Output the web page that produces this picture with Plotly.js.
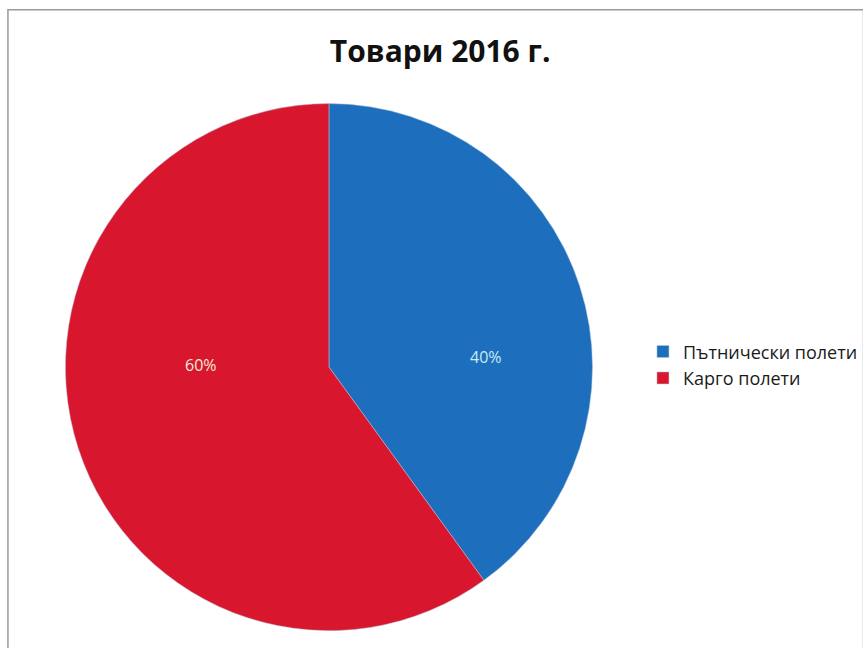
<!DOCTYPE html>
<html>
<head>
<meta charset="utf-8">
<script src="https://cdn.plot.ly/plotly-3.0.1.min.js"></script>
<style>html,body{margin:0;padding:0;background:#fff;}#chart{width:863px;height:648px;}</style>
</head>
<body>
<div id="chart"></div>
<script>
const categories = ["Пътнически полети", "Карго полети"];
const values = [40, 60];
const sliceColors = ["#1d6fbd", "#d8172f"];
const labelColors = ["#c8ecf4", "#f4ead8"];

const total = values.reduce((a, b) => a + b, 0);
const pctText = values.map(v => Math.round(v / total * 100) + "%");

const data = [{
  type: "pie",
  labels: categories,
  values: values,
  sort: false,
  direction: "clockwise",
  rotation: 0,
  marker: {colors: sliceColors, line: {color: "#b8c4d8", width: 0.5}},
  textinfo: "none",
  domain: {x: [0.0765, 0.693], y: [0.023, 0.844]},
  hoverinfo: "label+percent"
}];

const fontFam = "Open Sans, Liberation Sans, sans-serif";
// label anchor positions (paper fractions), one per slice
const labelX = [0.568, 0.214];
const labelY = [0.449, 0.437];

const layout = {
  width: 863, height: 648,
  margin: {l: 0, r: 0, t: 0, b: 0},
  paper_bgcolor: "#ffffff",
  title: {text: "<b>Товари 2016 г.</b>", x: 0.51, xanchor: "center", y: 0.92, yanchor: "middle",
          font: {family: fontFam, size: 30, color: "#111111"}},
  showlegend: true,
  legend: {x: 0.752, y: 0.437, xanchor: "left", yanchor: "middle",
           font: {family: fontFam, size: 18, color: "#1a1a1a"},
           itemwidth: 30, bgcolor: "rgba(0,0,0,0)"},
  annotations: pctText.map((t, i) => ({
    text: t, x: labelX[i], y: labelY[i], xref: "paper", yref: "paper",
    showarrow: false, font: {family: fontFam, size: 16, color: labelColors[i]}
  })),
  shapes: [{type: "rect", xref: "paper", yref: "paper", x0: 0.0093, x1: 1.01, y0: -0.01, y1: 0.985,
            line: {color: "#9a9a9a", width: 1.5}, fillcolor: "rgba(0,0,0,0)"}]
};

Plotly.newPlot("chart", data, layout, {displayModeBar: false, staticPlot: true});
</script>
</body>
</html>
